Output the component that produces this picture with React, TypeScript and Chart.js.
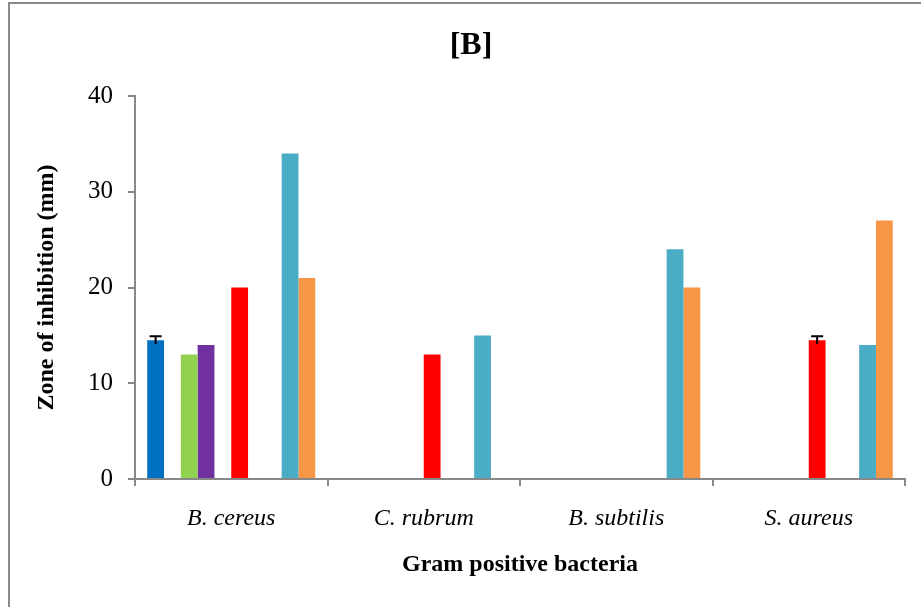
import React, { useEffect, useRef } from "react";
import { Chart, registerables } from "chart.js";

Chart.register(...registerables);

const categories = ["B. cereus", "C. rubrum", "B. subtilis", "S. aureus"];
const yTicks = [0, 10, 20, 30, 40];

const seriesBlue = [14.5, null, null, null];
const seriesEmptyA = [null, null, null, null];
const seriesGreen = [13, null, null, null];
const seriesPurple = [14, null, null, null];
const seriesEmptyB = [null, null, null, null];
const seriesRed = [20, 13, null, 14.5];
const seriesEmptyC = [null, null, null, null];
const seriesEmptyD = [null, null, null, null];
const seriesTeal = [34, 15, 24, 14];
const seriesOrange = [21, null, 20, 27];

const errBlue = [0.4, 0, 0, 0];
const errRed = [0, 0, 0, 0.4];

const titleText = "[B]";
const xTitle = "Gram positive bacteria";
const yTitle = "Zone of inhibition (mm)";

const SERIF = "'Liberation Serif', 'Times New Roman', serif";

const errorBarPlugin = {
  id: "errorBars",
  afterDatasetsDraw(chart: any) {
    const ctx = chart.ctx;
    const yScale = chart.scales.y;
    chart.data.datasets.forEach((ds: any, di: number) => {
      if (!ds.errors) return;
      const meta = chart.getDatasetMeta(di);
      ds.data.forEach((v: any, i: number) => {
        const e = ds.errors[i];
        if (v == null || !e) return;
        const bar = meta.data[i];
        const x = bar.x;
        const yTop = yScale.getPixelForValue(v + e);
        const yBot = yScale.getPixelForValue(v - e);
        ctx.save();
        ctx.strokeStyle = "#000";
        ctx.lineWidth = 2;
        ctx.beginPath();
        ctx.moveTo(x, yTop);
        ctx.lineTo(x, yBot);
        ctx.moveTo(x - 6, yTop);
        ctx.lineTo(x + 6, yTop);
        ctx.stroke();
        ctx.restore();
      });
    });
  },
};

const titlePlugin = {
  id: "mainTitle",
  afterDraw(chart: any) {
    const ctx = chart.ctx;
    ctx.save();
    ctx.font = `bold 32px ${SERIF}`;
    ctx.fillStyle = "#000";
    ctx.textAlign = "center";
    ctx.textBaseline = "middle";
    ctx.fillText(titleText, 471, 46);
    ctx.restore();
  },
};

export default function App() {
  const ref = useRef<HTMLCanvasElement | null>(null);

  useEffect(() => {
    if (!ref.current) return;
    const mk = (label: string, data: any[], color: string, errors?: number[]) => ({
      label,
      data,
      backgroundColor: color,
      borderWidth: 0,
      errors,
    });
    const chart = new Chart(ref.current, {
      type: "bar",
      data: {
        labels: categories,
        datasets: [
          mk("S1", seriesBlue, "#0070C0", errBlue),
          mk("S2", seriesEmptyA, "#C0504D"),
          mk("S3", seriesGreen, "#92D050"),
          mk("S4", seriesPurple, "#7030A0"),
          mk("S5", seriesEmptyB, "#FFC000"),
          mk("S6", seriesRed, "#FF0000", errRed),
          mk("S7", seriesEmptyC, "#1F497D"),
          mk("S8", seriesEmptyD, "#8064A2"),
          mk("S9", seriesTeal, "#4BACC6"),
          mk("S10", seriesOrange, "#F79646"),
        ] as any,
      },
      options: {
        animation: false,
        responsive: false,
        devicePixelRatio: 1,
        layout: { padding: { left: 0, right: 16, top: 96, bottom: 0 } },
        datasets: { bar: { categoryPercentage: 0.873, barPercentage: 1 } },
        plugins: {
          legend: { display: false },
          tooltip: { enabled: false },
          title: { display: false },
        },
        scales: {
          x: {
            offset: true,
            grid: {
              offset: true,
              drawOnChartArea: false,
              drawTicks: true,
              tickLength: 7,
              color: "#888888",
              lineWidth: 2,
            },
            border: { color: "#888888", width: 2 },
            ticks: {
              color: "#000",
              padding: 18,
              font: { family: SERIF, size: 24, style: "italic" },
            },
            title: {
              display: true,
              text: xTitle,
              color: "#000",
              font: { family: SERIF, size: 24, weight: "bold" },
              padding: { top: 0, bottom: 28 },
            },
            afterFit(scale: any) {
              scale.height = 128;
            },
          },
          y: {
            min: 0,
            max: 40,
            afterBuildTicks(scale: any) {
              scale.ticks = yTicks.map((v) => ({ value: v }));
            },
            grid: {
              drawOnChartArea: false,
              drawTicks: true,
              tickLength: 7,
              color: "#888888",
              lineWidth: 2,
            },
            border: { color: "#888888", width: 2 },
            ticks: {
              color: "#000",
              padding: 15,
              font: { family: SERIF, size: 25 },
            },
            title: {
              display: true,
              text: yTitle,
              color: "#000",
              font: { family: SERIF, size: 24, weight: "bold" },
              padding: { top: 32, bottom: 0 },
            },
            afterFit(scale: any) {
              scale.width = 135;
            },
          },
        },
      },
      plugins: [errorBarPlugin, titlePlugin],
    });
    return () => chart.destroy();
  }, []);

  return (
    <div
      style={{
        position: "fixed",
        left: 0,
        top: 0,
        width: 921,
        height: 607,
        overflow: "hidden",
        background: "#fff",
      }}
    >
      <div
        style={{
          position: "absolute",
          left: 8,
          top: 2,
          width: 1000,
          height: 800,
          border: "2px solid #8a8a8a",
          boxSizing: "border-box",
        }}
      />
      <canvas
        ref={ref}
        width={921}
        height={607}
        style={{ position: "absolute", left: 0, top: 0, width: 921, height: 607 }}
      />
    </div>
  );
}
